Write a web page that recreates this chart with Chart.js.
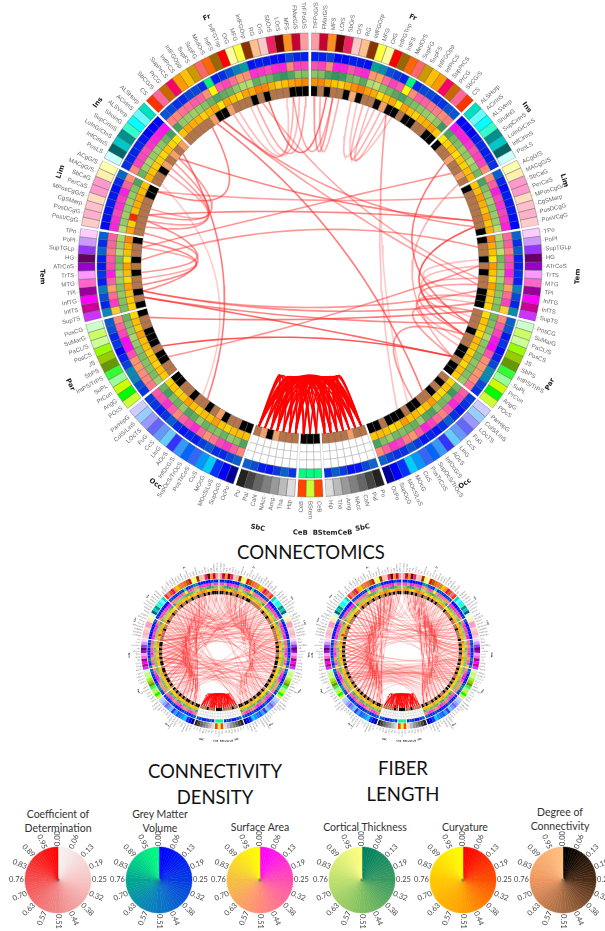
<!DOCTYPE html>
<html>
<head>
<meta charset="utf-8">
<title>Connectomics</title>
<script src="https://cdn.jsdelivr.net/npm/chart.js@4"></script>
<style>
html, body { margin: 0; padding: 0; background: #fff; }
#page { position: relative; width: 605px; height: 931px; overflow: hidden; background: #fff; filter: blur(0.35px); }
canvas { position: absolute; }
.title { position: absolute; transform: translateX(-50%); font-family: Lato, sans-serif; color: #111; font-size: 18.5px; line-height: 26px; text-align: center; white-space: nowrap; }
.sub { position: absolute; transform: translateX(-50%); font-family: Lato, sans-serif; color: #333; font-size: 10.5px; line-height: 13.5px; text-align: center; white-space: nowrap; }
</style>
</head>
<body>
<div id="page">
    <div class="title" style="left:311px;top:539px">CONNECTOMICS</div>
    <div class="title" style="left:215px;top:758px">CONNECTIVITY<br>DENSITY</div>
    <div class="title" style="left:403px;top:755px">FIBER<br>LENGTH</div>
    <div class="sub" style="left:58px;top:808px">Coefficient of<br>Determination</div>
    <div class="sub" style="left:160px;top:808px">Grey Matter<br>Volume</div>
    <div class="sub" style="left:260px;top:821px">Surface Area</div>
    <div class="sub" style="left:365px;top:821px">Cortical Thickness</div>
    <div class="sub" style="left:465px;top:821px">Curvature</div>
    <div class="sub" style="left:560px;top:806px">Degree of<br>Connectivity</div>
</div>
<script>

// =============================
// DATA
// =============================

const lobeNames = ["Fr", "Ins", "Lim", "Tem", "Par", "Occ", "SbC", "CeB"];

const frRegions = ["TrFPoG/S", "FMarG/S", "MFS", "LOrS", "SbOrS", "OrS", "RG", "InfFGOrp", "MFG", "OrG", "InfFGTrip", "InfFS", "MedOrS", "SupFG", "SupFS", "InfFGOpp", "InfPrCS", "SupPrCS", "PrCG", "SbCG/S", "CS"];
const insRegions = ["ALSHorp", "ACirInS", "ALSVerp", "ShoInG", "SupCirInS", "LoInG/CInS", "InfCirInS", "PosLS"];
const limRegions = ["ACgG/S", "MACgG/S", "SbCaG", "PerCaS", "MPosCgG/S", "CgSMarp", "PosDCgG", "PosVCgG"];
const temRegions = ["TPo", "PoPl", "SupTGLp", "HG", "ATrCoS", "TrTS", "MTG", "TPl", "InfTG", "InfTS", "SupTS"];
const parRegions = ["PosCG", "SuMarG", "PaCL/S", "PosCS", "JS", "SbPS", "IntPS/TrPS", "SuPL", "PrCun", "AngG", "POcS"];
const occRegions = ["ParHipG", "ColS/LinS", "LOcTS", "FuG", "CcS", "LinG", "AOcS", "InfOcG/S", "SupOcS/TrOcS", "PosTrCoS", "CuS", "MOcG", "MOcS/LuS", "SupOcG", "OcPo"];
const sbcRegions = ["Pu", "Pal", "CaN", "NAcc", "Amg", "Tha", "Hip"];
const cebRegions = ["CeB"];
const brainstemRegion = "BStem";

// ring values, right hemisphere: Fr | Ins | Lim | Tem | Par | Occ | SbC | CeB
const gmRight = [
    .12,.12,.28,.02,.03,.12,.1,.06,.75,.62,.32,.25,.14,.98,.18,.3,.3,.2,.22,.33,.35,
    .02,.02,0,.12,.18,.12,.15,.2,
    .4,.15,.05,.12,.1,.1,.05,.02,
    .42,.2,.38,.14,.12,.2,.14,.55,.3,.15,.62,
    .4,.36,.1,.2,.05,.15,.3,.6,.58,.3,.2,
    .25,.2,.1,.2,.4,.2,.1,.15,.1,.25,.35,.2,.2,.28,.42,
    .42,.3,.1,.06,.25,.38,.2,
    1
];
const gmLeft = [
    .12,.15,.3,.03,.04,.1,.12,.08,.7,.55,.35,.2,.12,.96,.2,.3,.28,.18,.2,.3,.34,
    .03,.01,0,.1,.16,.14,.16,.18,
    .42,.18,.06,.1,.12,.08,.06,.03,
    .4,.18,.42,.12,.1,.22,.12,.52,.32,.14,.6,
    .38,.34,.16,.22,0,.14,.28,.58,.56,.32,.22,
    .24,.22,.12,.22,.38,.18,.08,.16,.12,.26,.36,.18,.18,.3,.4,
    .4,.32,.12,.08,.24,.4,.22,
    1
];
const gmBrainstem = 1;

const saRight = [
    .25,.2,.5,.08,.1,.25,.15,.12,.55,.62,.35,.2,.3,1,.5,.3,.32,.4,.42,.5,.45,
    .05,.1,.1,.15,.25,.2,.2,.5,
    .5,.3,.08,.2,.15,.2,.15,.1,
    .35,.3,.45,.25,.2,.1,.3,.6,.35,.2,.82,
    .5,.3,.2,.05,0,.25,.5,.55,.55,.5,.4,
    .3,.22,.12,.3,.45,.35,.2,.1,.3,.55,.42,.2,.15,.32,.5,
    null,null,null,null,null,null,null,
    null
];
const saLeft = [
    .22,.2,.48,.1,.12,.22,.16,.14,.5,.6,.38,.22,.28,.98,.52,.32,.3,.38,.4,.48,.46,
    .06,.08,.12,.16,.24,.22,.2,.48,
    .52,.32,.1,.18,.14,.22,.14,.12,
    .32,.34,.42,.28,.22,.08,.3,.62,.36,.18,.8,
    .48,.32,.22,.02,.03,.24,.52,.56,.5,.48,.42,
    .28,.24,.14,.28,.48,.32,.22,.12,.34,.52,.4,.22,.16,.3,.48,
    null,null,null,null,null,null,null,
    null
];

const ctRight = [
    .55,.5,.3,.2,.25,.45,.5,.35,.7,.75,.55,.45,.35,.3,.45,.5,.55,.6,.65,.55,.25,
    .3,.45,.5,.6,.55,.7,.6,.45,
    .3,.5,.6,.65,.55,.6,.6,.75,
    .7,.6,.75,.45,.55,.65,.65,.5,.55,.55,.5,
    .45,.5,.55,.7,.55,.55,.45,.55,.5,.5,.6,
    .45,.25,.5,.45,.55,.3,.35,.6,.4,.45,.5,.45,.6,.5,.3,
    null,null,null,null,null,null,null,
    null
];
const ctLeft = [
    .5,.55,.32,.22,.28,.42,.48,.38,.72,.7,.58,.42,.38,.32,.42,.52,.58,.62,.6,.58,.28,
    .28,.42,.55,.62,.58,.68,.62,.42,
    .32,.52,.58,.62,.58,.62,.58,.72,
    .68,.62,.72,.48,.52,.68,.62,.52,.58,.52,.48,
    .42,.52,.58,.68,.58,.52,.48,.52,.52,.48,.62,
    .42,.28,.48,.42,.58,.32,.38,.58,.42,.48,.52,.42,.58,.52,.32,
    null,null,null,null,null,null,null,
    null
];

const cuRight = [
    .45,.42,.55,.72,.8,.6,.45,.38,.5,.55,.85,.7,.55,.9,.5,.68,.8,.65,.6,.5,.75,
    .9,.8,.7,.85,.75,.8,.7,.65,
    .75,.7,.5,.6,.72,.5,.75,.6,
    .4,.6,.72,.9,.48,.72,.86,.5,.72,.78,.82,
    .85,.72,.78,.84,.66,.72,.8,.7,.82,.68,.78,
    .82,.72,.84,.78,.48,.7,.82,.66,.72,.48,.76,.84,.72,.66,.74,
    null,null,null,null,null,null,null,
    null
];
const cuLeft = [
    .42,.46,.52,.7,.78,.58,.42,.4,.55,.52,.82,.72,.52,.88,.52,.66,.78,.62,.58,.52,.72,
    .88,.82,.72,.82,.78,.78,.72,.62,
    .72,.68,.55,.58,.7,.12,.78,.52,
    .42,.62,.7,.88,.5,.7,.84,.52,.7,.76,.8,
    .82,.7,.76,.5,.68,.7,.78,.72,.8,.7,.76,
    .8,.74,.82,.76,.5,.68,.8,.68,.7,.5,.74,.82,.7,.68,.72,
    null,null,null,null,null,null,null,
    null
];

const dgRight = [
    0,.55,0,.55,.55,0,.88,0,.55,.55,0,.8,0,0,.55,0,0,.55,.55,0,0,
    0,.55,.55,.8,.55,.55,.78,.55,
    0,.55,.55,.55,.55,.55,.55,0,
    0,.55,.55,0,.55,0,.55,.55,0,0,0,
    .55,.55,.55,0,.55,.55,0,0,.55,0,0,
    .55,0,.55,0,.55,.55,0,0,.55,0,0,0,.55,0,0,
    .55,.55,.8,.55,.55,.55,.55,
    0
];
const dgLeft = [
    0,0,0,.55,.55,.55,0,.55,0,.55,.55,.55,.8,0,0,.8,.55,.55,.55,.55,.55,
    .8,.55,.8,.55,.8,0,.55,.55,
    0,0,.55,.55,.55,.55,.55,.55,
    0,.55,.55,0,.55,0,.55,.55,0,.55,0,
    0,.55,.55,0,0,0,.55,0,0,.55,.55,
    0,0,.55,.55,0,.55,.55,0,.55,.8,0,.55,.55,0,0,
    .55,.8,0,.8,.55,.55,.55,
    0
];
const dgBrainstem = 0;

// black (zero degree) cells of the two small panels, by position round the circle
const densityBlackCells = [0,1,3,5,8,11,13,14,22,25,30,37,39,41,44,46,47,48,50,52,53,55,57,58,60,62,63,65,67,69,70,72,73,76,81,82,83,87,91,92,94,96,97,99,101,103,105,107,109,110,112,114,115,117,118,120,122,124,126,127,133,137,141,146,149,152,155,158,160,162,163,164];
const lengthBlackCells = [1,2,4,6,9,12,14,16,21,26,31,36,38,40,42,45,47,49,51,54,56,58,59,61,64,66,68,71,73,78,81,82,83,85,92,93,95,98,100,102,104,106,108,111,113,116,117,119,121,123,125,127,129,134,140,145,148,151,154,157,159,161,163,164];

// chords: [region, region, strength], regions numbered clockwise from the top
const mainChords = [
    [34,131,.7],[26,126,.6],[56,118,.85],[56,110,.95],[34,141,.7],[30,135,.55],[35,52,.95],[24,50,.75],
    [43,50,.5],[44,52,.55],[46,54,.45],[48,56,.6],[47,53,.4],[40,46,.35],[41,49,.4],[65,52,.6],
    [12,66,.3],[136,100,.3],[142,99,.75],[120,127,.7],[122,128,.6],[119,130,.65],[121,126,.5],
    [8,11,.45],[9,12,.4],[7,13,.35],[6,10,.4],[2,158,.8],[0,3,.6],[1,4,.45],[3,162,.5],
    [153,163,.4],[155,161,.35],[152,162,.45],[156,164,.5],[63,149,.75],[140,129,.6],[139,130,.55],
    [141,131,.6],[138,132,.5],[148,135,.7],[68,12,.35],[119,45,.6],[124,38,.6],[47,119,.65],
    [48,115,.75],[41,108,.6],[35,150,.6],[44,150,.55],[43,157,.5],[50,118,.7],[28,56,.45]
];
const mainFan = [
    [74,90],[74,88],[74,86],[75,90],[75,87],[76,89],[76,85],[77,90],[77,88],[77,86],[78,89],[78,87],
    [79,90],[79,88],[79,85],[80,89],[80,86],[81,90],[81,87],[82,90],[82,87],[83,90],[83,88],[74,84],
    [75,84],[78,84],[76,83],[74,82],[74,81],[79,83],[80,84],[81,84],
    [74,77],[74,78],[75,78],[75,79],[76,80],[77,80],[84,87],[85,88],[86,90],[87,90],[88,90],[85,89]
];
const densityChords = [
    [2,40],[4,120],[6,132],[9,150],[11,60],[12,140],[14,125],[15,44],[16,110],[18,128],[19,52],[20,135],
    [22,118],[23,142],[24,60],[25,105],[26,126],[27,148],[28,115],[29,137],[30,122],[31,101],[32,48],[33,130],
    [34,120],[35,142],[36,112],[37,128],[38,116],[39,146],[40,124],[41,100],[42,134],[43,58],[44,118],[45,108],
    [46,126],[47,152],[48,122],[49,104],[50,130],[51,116],[52,144],[53,112],[54,120],[55,100],[56,128],[57,152],
    [58,118],[59,136],[60,110],[61,146],[62,124],[63,154],[64,114],[65,132],[66,106],[67,142],[68,120],[69,160],
    [70,128],[71,150],[72,112],[73,138],[3,30],[5,24],[7,46],[10,38],[13,33],[17,42],[8,20],[1,155],
    [0,148],[160,140],[158,126],[156,118],[154,135],[152,110],[150,124],[148,128],[146,116],[144,120],[142,104],[140,118],
    [138,108],[136,112],[134,122],[132,100],[130,114],[128,106],[126,118],[124,96],[122,110],[120,100],[118,94],[116,126],
    [35,58],[30,50],[25,40],[44,66],[48,70],[38,62],[42,68],[34,72],[20,44],[15,36],[162,130],[164,142],
    [2,150],[6,157],[10,146],[14,161],[18,152],[22,163],[92,124],[96,130],[98,138],[102,144],[95,112],[99,120],
    [1,36],[3,48],[5,142],[7,130],[9,118],[11,138],[13,58],[15,146],[17,124],[19,136],[21,112],[23,128],
    [25,150],[27,117],[29,46],[31,126],[33,141],[35,108],[37,133],[39,120],[41,143],[43,114],[45,129],[47,102],
    [49,137],[51,123],[53,147],[55,116],[57,131],[59,106],[61,125],[63,139],[65,110],[67,127],[69,150],[71,119],
    [73,135],[72,62],[70,56],[68,50],[66,46],[64,40],[62,34],[60,28],[58,24],[56,22],[54,36],[52,28],
    [50,20],[48,14],[46,10],[44,8],[42,6],[40,4],[38,2],[36,0],[34,162],[32,156],[30,150],[28,144],
    [26,138],[24,134],[22,128],[20,124],[18,120],[16,116],[14,112],[12,108],[10,104],[8,100],[163,128],[161,122],
    [159,116],[157,110],[155,104],[153,100],[151,96],[149,93],[147,122],[145,128],[143,132],[141,116],[139,110],[137,104],
    [135,98],[133,112],[131,106],[129,98],[127,94],[125,112],[123,104],[121,96],[119,108],[117,102],[115,93],[113,132],
    [111,140],[109,146],[107,154],[105,120],[103,128],[101,136],[97,142],[93,148],[91,118],[94,134],[100,158],[104,164]
];
const lengthChords = [
    [54,110],[52,112],[56,108],[55,111],[53,109],[51,113],[57,107],[50,114],[54,112],[53,111],[52,109],[56,110],
    [55,113],[49,115],[58,106],[48,116],[47,117],[46,112],[45,118],[44,110],[60,105],[62,104],[64,103],[66,102],
    [2,60],[4,66],[6,54],[8,70],[10,50],[12,62],[14,46],[16,58],[18,42],[20,64],[22,52],[24,44],
    [26,120],[28,134],[30,116],[32,140],[34,128],[36,150],[38,122],[40,144],[42,130],[43,156],[41,162],[39,158],
    [164,100],[162,108],[160,94],[158,114],[156,98],[154,110],[152,92],[150,120],[148,104],[146,116],[144,96],[142,112],
    [140,118],[138,102],[136,124],[134,110],[132,118],[130,100],[128,114],[126,104],[124,110],[122,98],[120,112],[118,106],
    [0,30],[3,36],[5,26],[7,40],[9,22],[11,34],[13,28],[15,38],[17,32],[19,44],[21,48],[23,56],
    [163,135],[161,128],[159,140],[157,122],[155,132],[153,126],[151,138],[149,130],[147,142],[145,124],[143,134],[141,128],
    [1,150],[4,158],[8,146],[12,162],[16,154],[20,148],[24,140],[28,150],[32,130],[36,146],[40,136],[44,126],
    [46,66],[48,72],[50,68],[52,70],[94,116],[97,122],[100,128],[103,118],
    [1,44],[3,52],[5,60],[7,68],[9,48],[11,56],[13,64],[15,72],[17,50],[19,58],[21,66],[23,46],
    [25,54],[27,62],[29,70],[31,48],[33,56],[35,64],[37,72],[39,52],[41,60],[43,68],[45,56],[47,64],
    [25,130],[27,142],[29,118],[31,136],[33,124],[35,146],[37,128],[39,152],[41,120],[43,138],[45,126],[47,144],
    [49,132],[51,122],[53,140],[55,118],[57,128],[59,112],[61,124],[63,108],[65,118],[67,110],[69,124],[71,116],
    [73,108],[72,104],[70,100],[68,96],[164,120],[162,128],[160,116],[158,132],[156,122],[154,118],[152,126],[150,112],
    [148,122],[146,106],[144,118],[142,100],[140,110],[138,94],[136,104],[134,98],[132,108],[130,92],[128,102],[126,96],
    [124,100],[122,93],[120,104],[118,96],[116,134],[114,140],[112,148],[110,154],[108,160],[106,136],[104,144],[102,152],
    [100,160],[98,148],[96,140],[93,132],[91,126],[2,18],[6,24],[10,30],[14,34],[18,38],[22,40],[26,42]
];
const densityFan = [
    [74,90],[74,87],[75,89],[75,85],[76,90],[76,86],[77,88],[77,84],[78,90],[78,85],[79,89],[79,86],
    [80,90],[80,87],[81,88],[81,85],[82,89],[82,84],[83,90],[83,86],[74,84],[75,83],[76,82],[77,81],
    [74,78],[75,79],[76,80],[84,88],[85,89],[86,90]
];
const lengthFan = [
    [74,89],[74,86],[75,90],[75,84],[76,88],[76,85],[77,90],[77,87],[78,89],[78,84],[79,90],[79,86],
    [80,88],[80,85],[81,90],[81,87],[82,88],[82,85],[83,89],[83,84],[74,83],[75,82],[76,81],[78,83],
    [74,77],[75,78],[77,80],[84,87],[86,89],[87,90]
];

const legendTicks = [0.00, 0.06, 0.13, 0.19, 0.25, 0.32, 0.38, 0.44, 0.51, 0.57, 0.63, 0.70, 0.76, 0.83, 0.89, 0.95];

// =============================
// COLOURS
// =============================

const frColors = ["#ff9aa2","#c80032","#ff9020","#6b0000","#f02060","#ffc8c8","#ffc090","#8b3300","#ffff40","#ffffa0","#ff0000","#996600","#ff6600","#ff6666","#cc9900","#ffc000","#ff9900","#ff0066","#cc6600","#ff6699","#ff3300"];
const insColors = ["#00e0c0","#66ffff","#00ffff","#33ffcc","#009090","#00c8c8","#006666","#ccffff"];
const limColors = ["#ffffb0","#fff0b0","#ff99cc","#ff99cc","#ffdcc0","#ffc0cc","#ffb0cc","#ffcccc"];
const temColors = ["#ffccff","#cc99ff","#9933ff","#660066","#9900cc","#ff99ff","#ff66cc","#990099","#ff00ff","#cc0099","#cc33ff"];
const parColors = ["#ccffcc","#ccff66","#ccff99","#99ff00","#99cc00","#669900","#33ff33","#99ff99","#ccff00","#00ff00","#ccff33"];
const occColors = ["#ccccff","#99ccff","#9999ff","#6666ff","#6699ff","#66ccff","#3333ff","#3399ff","#0066ff","#3366ff","#0099ff","#00ccff","#0033ff","#0000ff","#000099"];
const sbcColors = ["#222222","#444444","#666666","#808080","#999999","#bbbbbb","#dddddd"];
const cebColors = ["#ff4400"];
const brainstemColor = "#ccff33";

const cdStops = [[0,"#f6f2f2"],[.25,"#f7c4c4"],[.5,"#f08a8a"],[.76,"#f55050"],[1,"#ff0000"]];
const gmStops = [[0,"#0000ff"],[.5,"#0a78c4"],[.76,"#00a890"],[1,"#00ff80"]];
const saStops = [[0,"#ff00ff"],[.25,"#ff50b0"],[.5,"#ff8c78"],[.76,"#f5c040"],[1,"#ffff00"]];
const ctStops = [[0,"#008060"],[.25,"#3c9a60"],[.5,"#80c060"],[.76,"#c0e070"],[1,"#ffff80"]];
const cuStops = [[0,"#ff0000"],[.25,"#ff5000"],[.5,"#ffa000"],[.76,"#ffc800"],[1,"#ffff00"]];
const dgStops = [[0,"#000000"],[.25,"#503018"],[.5,"#a86c44"],[.76,"#f09860"],[1,"#ffc080"]];

function colorAt(stops, value) {

    if (value === null) return "#ffffff";

    for (let i = 1; i < stops.length; i++) {

        if (value <= stops[i][0]) {

            const t = (value - stops[i - 1][0]) / (stops[i][0] - stops[i - 1][0]);
            const a = stops[i - 1][1];
            const b = stops[i][1];
            const mix = p => Math.round(
                parseInt(a.substr(p, 2), 16) * (1 - t) + parseInt(b.substr(p, 2), 16) * t
            );

            return `rgb(${mix(1)},${mix(3)},${mix(5)})`;

        }

    }

    return stops[stops.length - 1][1];

}

// =============================
// SLICES ROUND THE CIRCLE
// =============================

const lobeRegions = [frRegions, insRegions, limRegions, temRegions, parRegions, occRegions, sbcRegions, cebRegions];
const lobeColors = [frColors, insColors, limColors, temColors, parColors, occColors, sbcColors, cebColors];

const slices = [];
const sliceOfRegion = [];

function addRegion(name, color, lobe, side, index) {

    sliceOfRegion.push(slices.length);
    slices.push({ name, color, lobe, side, index, weight: 1 });

}

function addSeparator() {

    slices.push({ name: null, weight: 0.32 });

}

let offset = 0;

lobeRegions.forEach((regions, l) => {

    regions.forEach((name, i) => addRegion(name, lobeColors[l][i], lobeNames[l], 0, offset + i));
    offset += regions.length;
    if (l < 7) addSeparator();

});

addRegion(brainstemRegion, brainstemColor, "BStem", 2, 0);

for (let l = 7; l >= 0; l--) {

    const regions = lobeRegions[l];
    offset -= regions.length;

    for (let i = regions.length - 1; i >= 0; i--) {
        addRegion(regions[i], lobeColors[l][i], lobeNames[l], 1, offset + i);
    }

    addSeparator();

}

function ringColors(right, left, middle, stops) {

    return slices.map(s => {

        if (s.name === null) return "#ffffff";
        if (s.side === 2) return colorAt(stops, middle);

        return colorAt(stops, s.side === 0 ? right[s.index] : left[s.index]);

    });

}

// =============================
// CANVAS HELPERS
// =============================

const page = document.getElementById("page");

function addCanvas(cx, cy, size) {

    const canvas = document.createElement("canvas");

    canvas.width = size;
    canvas.height = size;
    canvas.style.left = (cx - size / 2) + "px";
    canvas.style.top = (cy - size / 2) + "px";
    page.appendChild(canvas);

    return canvas;

}

const ringLabels = {

    id: "ringLabels",

    afterDatasetsDraw(chart, args, opts) {

        const ctx = chart.ctx;
        const arcs = chart.getDatasetMeta(0).data;
        const k = opts.scale;
        const groups = {};

        ctx.save();
        ctx.textBaseline = "middle";

        slices.forEach((s, i) => {

            if (s.name === null) return;

            const arc = arcs[i];
            const a = (arc.startAngle + arc.endAngle) / 2;
            const r = arc.outerRadius;
            const key = s.lobe + (s.side === 1 ? "L" : "R");

            if (!groups[key]) groups[key] = { lobe: s.lobe, side: s.side, sum: 0, n: 0, x: arc.x, y: arc.y };
            groups[key].sum += a;
            groups[key].n += 1;

            const c = Math.cos(a);
            const d = Math.sin(a);

            ctx.strokeStyle = "#aaa";
            ctx.lineWidth = 0.4 * k;
            ctx.beginPath();
            ctx.moveTo(arc.x + c * (r + 1 * k), arc.y + d * (r + 1 * k));
            ctx.lineTo(arc.x + c * (r + 3 * k), arc.y + d * (r + 3 * k));
            ctx.stroke();

            ctx.save();
            ctx.translate(arc.x + c * (r + 4 * k), arc.y + d * (r + 4 * k));
            ctx.fillStyle = "#666";
            ctx.font = (6 * k) + "px 'Liberation Sans', sans-serif";

            if (c >= -0.001) {
                ctx.rotate(a);
                ctx.textAlign = "left";
            } else {
                ctx.rotate(a + Math.PI);
                ctx.textAlign = "right";
            }

            ctx.fillText(s.name, 0, 0);
            ctx.restore();

        });

        Object.values(groups).forEach(g => {

            const a = g.sum / g.n;
            const r = 268 * k;
            const deg = a * 180 / Math.PI + 90;
            let rot = deg;

            if (deg > 90 && deg < 270) rot = deg - 180;

            let nudgeX = 0;
            let nudgeY = 0;
            if (g.lobe === "BStem") nudgeX = 15 * k;
            if (g.lobe === "CeB" && g.side === 0) nudgeX = 25 * k;
            if (g.lobe === "Lim" && g.side === 1) { nudgeX = 5 * k; nudgeY = -9 * k; }
            if (g.lobe === "Ins" && g.side === 1) { nudgeX = 5 * k; nudgeY = -5 * k; }

            ctx.save();
            ctx.translate(g.x + Math.cos(a) * r + nudgeX, g.y + Math.sin(a) * r + nudgeY);
            ctx.rotate(rot * Math.PI / 180);
            ctx.fillStyle = "#222";
            ctx.textAlign = "center";
            ctx.font = "bold " + (6.8 * k) + "px 'DejaVu Sans', sans-serif";
            ctx.fillText(g.lobe, 0, 0);
            ctx.restore();

        });

        ctx.restore();

    }

};

// =============================
// CONNECTOGRAM
// =============================

function drawConnectogram(cx, cy, radius, size, degreeColors, chords, fan, chordWidth, fanWidth, chordAlpha, chordBend, fanBend) {

    const k = radius / 232;
    const ringCanvas = addCanvas(cx, cy, size);
    const weights = [17, 2, 9, 9, 8, 8, 10];
    const ringColorLists = [
        slices.map(s => s.name === null ? "#ffffff" : s.color),
        slices.map(() => "rgba(255,255,255,0)"),
        ringColors(gmRight, gmLeft, gmBrainstem, gmStops),
        ringColors(saRight, saLeft, null, saStops),
        ringColors(ctRight, ctLeft, null, ctStops),
        ringColors(cuRight, cuLeft, null, cuStops),
        degreeColors
    ];

    const ring = new Chart(ringCanvas, {
        type: "doughnut",
        data: {
            labels: slices.map(s => s.name || ""),
            datasets: ringColorLists.map((colors, r) => ({
                data: slices.map(s => s.weight),
                weight: weights[r],
                backgroundColor: colors,
                borderColor: slices.map((s, i) => {
                    if (s.name === null || r === 1) return "rgba(255,255,255,0)";
                    return colors[i] === "#ffffff" ? "#aaaaaa" : "rgba(90,90,90," + (k < 1 ? 0.25 : 0.8) + ")";
                }),
                borderWidth: slices.map(s => s.name === null ? 0 : (k < 1 ? 0.2 : 0.5))
            }))
        },
        options: {
            responsive: false,
            animation: false,
            radius: radius,
            cutout: (169 / 232 * 100) + "%",
            rotation: 0.3,
            plugins: {
                legend: { display: false },
                tooltip: { enabled: false },
                ringLabels: { scale: k }
            }
        },
        plugins: [ringLabels]
    });

    const arcs = ring.getDatasetMeta(6).data;

    function chordPoints(pair, bend) {

        const arcA = arcs[sliceOfRegion[pair[0]]];
        const arcB = arcs[sliceOfRegion[pair[1]]];
        const a = (arcA.startAngle + arcA.endAngle) / 2;
        const b = (arcB.startAngle + arcB.endAngle) / 2;
        const r = arcA.innerRadius;
        const ax = Math.cos(a) * r, ay = Math.sin(a) * r;
        const bx = Math.cos(b) * r, by = Math.sin(b) * r;
        const mx = ax + bx, my = ay + by;
        const len = Math.hypot(mx, my) || 1;
        const qx = mx / len * r * bend, qy = my / len * r * bend;
        const points = [];

        for (let i = 0; i <= 20; i++) {

            const t = i / 20;
            const u = 1 - t;

            points.push({
                x: u * u * ax + 2 * u * t * qx + t * t * bx,
                y: -(u * u * ay + 2 * u * t * qy + t * t * by)
            });

        }

        return points;

    }

    const chordSets = chords.map(c => ({
        data: chordPoints(c, chordBend),
        showLine: true,
        pointRadius: 0,
        borderWidth: chordWidth,
        borderColor: `rgba(255,50,50,${c.length > 2 ? c[2] * 0.85 : chordAlpha})`
    }));

    const fanSets = fan.map(c => ({
        data: chordPoints(c, fanBend),
        showLine: true,
        pointRadius: 0,
        borderWidth: fanWidth,
        borderColor: "#ff0000"
    }));

    new Chart(addCanvas(cx, cy, size), {
        type: "scatter",
        data: { datasets: chordSets.concat(fanSets) },
        options: {
            responsive: false,
            animation: false,
            events: [],
            layout: { padding: 0 },
            scales: {
                x: { display: false, min: -size / 2, max: size / 2 },
                y: { display: false, min: -size / 2, max: size / 2 }
            },
            plugins: { legend: { display: false }, tooltip: { enabled: false } }
        }
    });

}

const mainDegree = ringColors(dgRight, dgLeft, dgBrainstem, dgStops);

function smallDegree(blackCells) {

    let region = -1;

    return slices.map(s => {

        if (s.name === null) return "#ffffff";
        region += 1;

        return colorAt(dgStops, blackCells.includes(region) ? 0 : 0.55);

    });

}

drawConnectogram(310, 265, 232, 600, mainDegree, mainChords, mainFan, 1.6, 1.6, 0.6, 0.35, 0.35);
drawConnectogram(219, 651, 78, 200, smallDegree(densityBlackCells), densityChords, densityFan, 0.45, 0.7, 0.5, 0.3, 0.54);
drawConnectogram(402, 651, 78, 200, smallDegree(lengthBlackCells), lengthChords, lengthFan, 0.45, 0.7, 0.5, 0.3, 0.54);

// =============================
// COLOUR WHEELS
// =============================

const wheelSteps = legendTicks.flatMap((tick, i) => {

    const next = i + 1 < legendTicks.length ? legendTicks[i + 1] : 1;

    return [tick, tick + (next - tick) / 4, tick + (next - tick) / 2, tick + (next - tick) * 3 / 4];

});

const wheelLabels = {

    id: "wheelLabels",

    afterDatasetsDraw(chart) {

        const ctx = chart.ctx;
        const arcs = chart.getDatasetMeta(0).data;

        ctx.save();
        ctx.fillStyle = "#444";
        ctx.font = "7.5px Lato, sans-serif";
        ctx.textAlign = "center";
        ctx.textBaseline = "middle";

        legendTicks.forEach((tick, i) => {

            const arc = arcs[i * 4];
            const a = arc.startAngle;
            const r = arc.outerRadius + 8.5;

            ctx.save();
            ctx.translate(arc.x + Math.cos(a) * r, arc.y + Math.sin(a) * r);
            ctx.rotate(Math.cos(a) >= -0.001 ? a : a + Math.PI);
            ctx.fillText(tick.toFixed(2), 0, 0);
            ctx.restore();

        });

        ctx.fillStyle = "rgba(90,110,120,0.75)";
        ctx.beginPath();
        ctx.arc(arcs[0].x, arcs[0].y, 1.8, 0, Math.PI * 2);
        ctx.fill();
        ctx.restore();

    }

};

function drawWheel(cx, cy, stops) {

    const colors = wheelSteps.map(s => colorAt(stops, s));

    new Chart(addCanvas(cx, cy, 110), {
        type: "pie",
        data: {
            labels: wheelSteps.map(s => s.toFixed(3)),
            datasets: [{
                data: wheelSteps.map(() => 1),
                backgroundColor: colors,
                borderColor: colors,
                borderWidth: 0.5
            }]
        },
        options: {
            responsive: false,
            animation: false,
            radius: 33,
            plugins: { legend: { display: false }, tooltip: { enabled: false } }
        },
        plugins: [wheelLabels]
    });

}

drawWheel(58, 880, cdStops);
drawWheel(159, 880, gmStops);
drawWheel(260, 880, saStops);
drawWheel(362, 880, ctStops);
drawWheel(463, 880, cuStops);
drawWheel(563, 880, dgStops);

</script>
</body>
</html>
